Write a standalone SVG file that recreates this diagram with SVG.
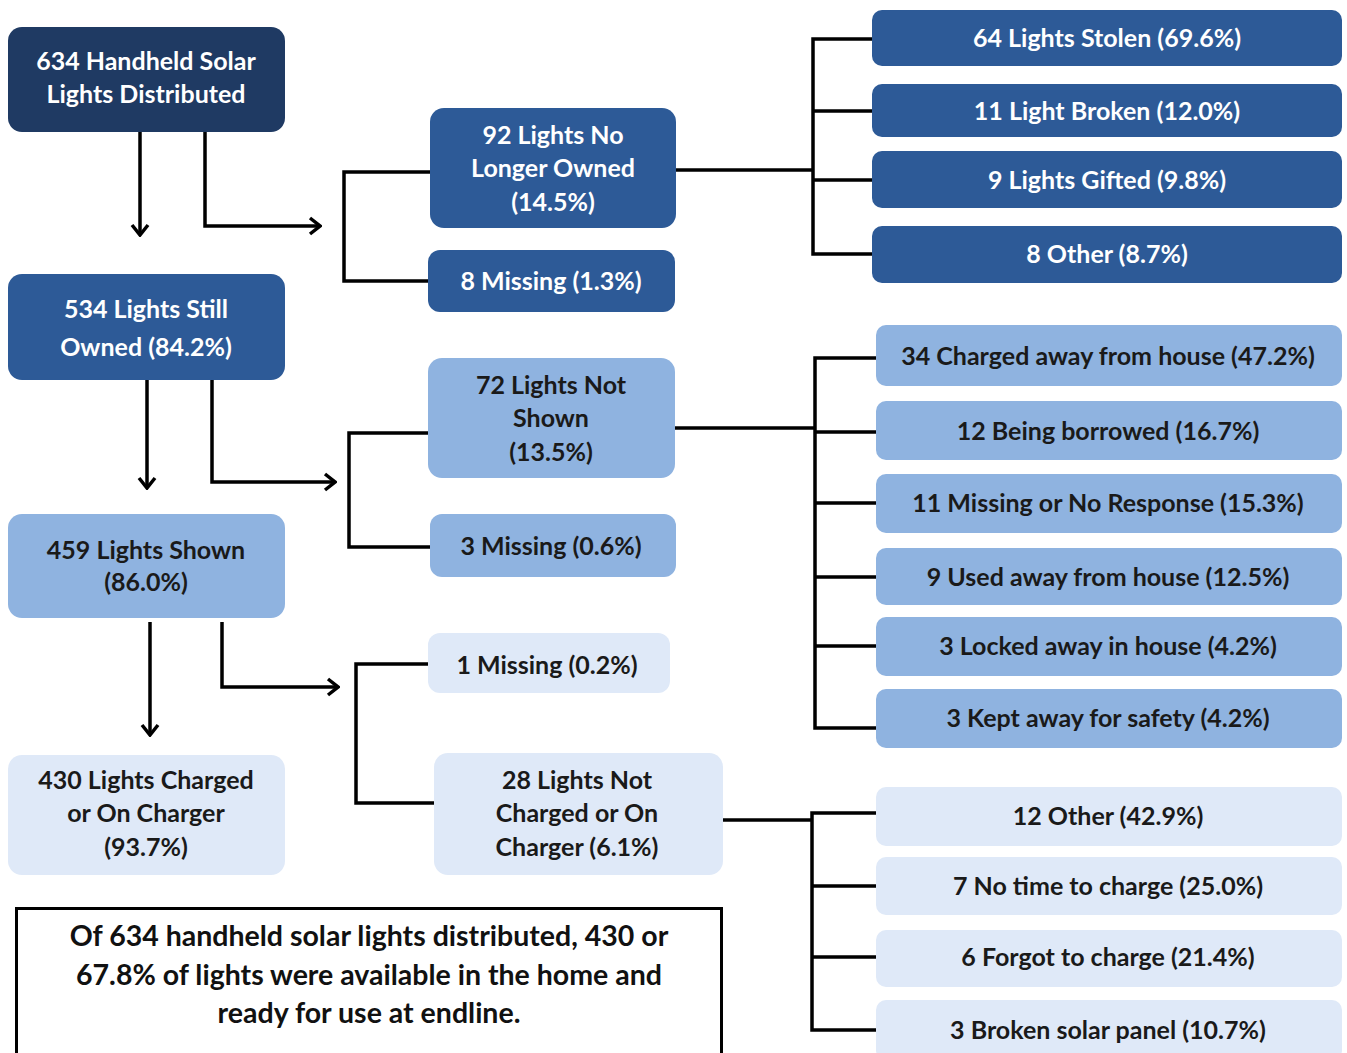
<svg xmlns="http://www.w3.org/2000/svg" width="1347" height="1053" viewBox="0 0 1347 1053">
<style>
.n rect{stroke:none}
.d1{fill:#1f3a63}
.d2{fill:#2d5a97}
.l1{fill:#8fb3e0}
.l2{fill:#dfe9f8}
text{font-family:Lato,"Liberation Sans",sans-serif;font-weight:bold;font-size:25px;text-anchor:middle}
.w{fill:#ffffff}
.k{fill:#1a1a1a}
.c path{fill:none;stroke:#000;stroke-width:3.5}
.note{font-size:28.5px;fill:#111}
</style>
<defs>
<marker id="ar" viewBox="0 0 14 20" refX="12" refY="10" markerWidth="14" markerHeight="20" markerUnits="userSpaceOnUse" orient="auto">
<path d="M2,2 L12,10 L2,18" fill="none" stroke="#000" stroke-width="3.5"/>
</marker>
</defs>
<rect width="1347" height="1053" fill="#fff"/>
<g class="c">
<path d="M140,132 V235" marker-end="url(#ar)"/>
<path d="M205,132 V226 H320" marker-end="url(#ar)"/>
<path d="M430,172 H344 V281 H428"/>
<path d="M676,170 H813"/>
<path d="M872,39 H813 V254 H872 M813,111 H872 M813,180 H872"/>
<path d="M147,380 V488" marker-end="url(#ar)"/>
<path d="M212,380 V482 H335" marker-end="url(#ar)"/>
<path d="M428,433 H349 V547 H430"/>
<path d="M675,428 H815"/>
<path d="M876,358 H815 V728 H876 M815,432 H876 M815,503 H876 M815,577 H876 M815,646 H876"/>
<path d="M150,622 V735" marker-end="url(#ar)"/>
<path d="M222,622 V687 H338" marker-end="url(#ar)"/>
<path d="M428,664 H356 V803 H434"/>
<path d="M723,820 H812"/>
<path d="M876,813 H812 V1030 H876 M812,886 H876 M812,957 H876"/>
</g>
<g id="n-distributed" class="n"><rect class="d1" x="8" y="27" width="277" height="105" rx="14"/><text class="w" x="146" y="70">634 Handheld Solar</text><text class="w" x="146" y="103">Lights Distributed</text></g>
<g id="n-owned" class="n"><rect class="d2" x="8" y="274" width="277" height="106" rx="14"/><text class="w" x="146" y="318">534 Lights Still</text><text class="w" x="146" y="356">Owned (84.2%)</text></g>
<g id="n-shown" class="n"><rect class="l1" x="8" y="514" width="277" height="104" rx="14"/><text class="k" x="146" y="559">459 Lights Shown</text><text class="k" x="146" y="591">(86.0%)</text></g>
<g id="n-charged" class="n"><rect class="l2" x="8" y="755" width="277" height="120" rx="14"/><text class="k" x="146" y="789">430 Lights Charged</text><text class="k" x="146" y="822">or On Charger</text><text class="k" x="146" y="856">(93.7%)</text></g>
<g id="n-noowned" class="n"><rect class="d2" x="430" y="108" width="246" height="120" rx="14"/><text class="w" x="553" y="144">92 Lights No</text><text class="w" x="553" y="177">Longer Owned</text><text class="w" x="553" y="211">(14.5%)</text></g>
<g id="n-miss1" class="n"><rect class="d2" x="428" y="250" width="247" height="62" rx="12"/><text class="w" x="551" y="290">8 Missing (1.3%)</text></g>
<g id="n-notshown" class="n"><rect class="l1" x="428" y="358" width="247" height="120" rx="14"/><text class="k" x="551" y="394">72 Lights Not</text><text class="k" x="551" y="427">Shown</text><text class="k" x="551" y="461">(13.5%)</text></g>
<g id="n-miss2" class="n"><rect class="l1" x="430" y="514" width="246" height="63" rx="12"/><text class="k" x="551" y="555">3 Missing (0.6%)</text></g>
<g id="n-miss3" class="n"><rect class="l2" x="428" y="633" width="242" height="60" rx="12"/><text class="k" x="547" y="674">1 Missing (0.2%)</text></g>
<g id="n-notcharged" class="n"><rect class="l2" x="434" y="753" width="289" height="122" rx="14"/><text class="k" x="577" y="789">28 Lights Not</text><text class="k" x="577" y="822">Charged or On</text><text class="k" x="577" y="856">Charger (6.1%)</text></g>
<g id="n-stolen" class="n"><rect class="d2" x="872" y="10" width="470" height="56" rx="10"/><text class="w" x="1107" y="47">64 Lights Stolen (69.6%)</text></g>
<g id="n-broken" class="n"><rect class="d2" x="872" y="84" width="470" height="53" rx="10"/><text class="w" x="1107" y="120">11 Light Broken (12.0%)</text></g>
<g id="n-gifted" class="n"><rect class="d2" x="872" y="151" width="470" height="57" rx="10"/><text class="w" x="1107" y="189">9 Lights Gifted (9.8%)</text></g>
<g id="n-other1" class="n"><rect class="d2" x="872" y="226" width="470" height="57" rx="10"/><text class="w" x="1107" y="263">8 Other (8.7%)</text></g>
<g id="n-chargedaway" class="n"><rect class="l1" x="876" y="325" width="466" height="61" rx="10"/><text class="k" x="1108" y="365">34 Charged away from house (47.2%)</text></g>
<g id="n-borrowed" class="n"><rect class="l1" x="876" y="401" width="466" height="59" rx="10"/><text class="k" x="1108" y="440">12 Being borrowed (16.7%)</text></g>
<g id="n-noresp" class="n"><rect class="l1" x="876" y="474" width="466" height="59" rx="10"/><text class="k" x="1108" y="512">11 Missing or No Response (15.3%)</text></g>
<g id="n-usedaway" class="n"><rect class="l1" x="876" y="548" width="466" height="57" rx="10"/><text class="k" x="1108" y="586">9 Used away from house (12.5%)</text></g>
<g id="n-locked" class="n"><rect class="l1" x="876" y="617" width="466" height="59" rx="10"/><text class="k" x="1108" y="655">3 Locked away in house (4.2%)</text></g>
<g id="n-kept" class="n"><rect class="l1" x="876" y="689" width="466" height="59" rx="10"/><text class="k" x="1108" y="727">3 Kept away for safety (4.2%)</text></g>
<g id="n-other2" class="n"><rect class="l2" x="876" y="787" width="466" height="59" rx="10"/><text class="k" x="1108" y="825">12 Other (42.9%)</text></g>
<g id="n-notime" class="n"><rect class="l2" x="876" y="857" width="466" height="58" rx="10"/><text class="k" x="1108" y="895">7 No time to charge (25.0%)</text></g>
<g id="n-forgot" class="n"><rect class="l2" x="876" y="930" width="466" height="57" rx="10"/><text class="k" x="1108" y="966">6 Forgot to charge (21.4%)</text></g>
<g id="n-panel" class="n"><rect class="l2" x="876" y="1000" width="466" height="60" rx="10"/><text class="k" x="1108" y="1039">3 Broken solar panel (10.7%)</text></g>
<g id="note"><rect x="16.5" y="908.5" width="705" height="150" fill="#fff" stroke="#000" stroke-width="3"/><text class="note" x="369" y="946">Of 634 handheld solar lights distributed, 430 or</text><text class="note" x="369" y="985">67.8% of lights were available in the home and</text><text class="note" x="369" y="1023">ready for use at endline.</text></g>
</svg>
